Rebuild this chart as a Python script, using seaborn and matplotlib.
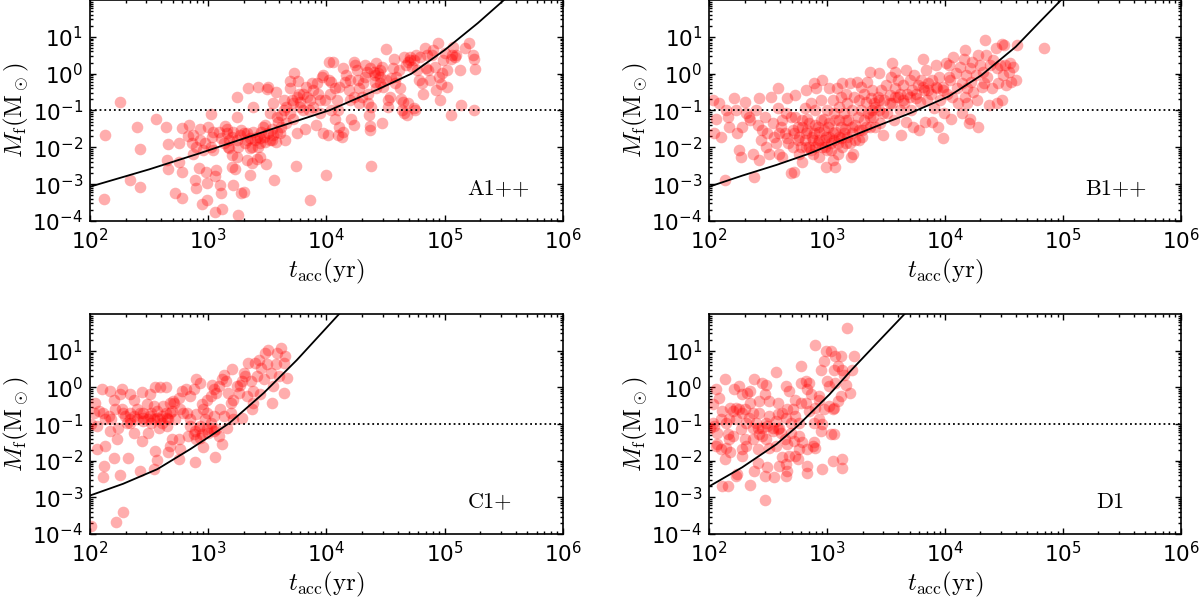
import numpy as np
import pandas as pd
import matplotlib
matplotlib.use("Agg")
import matplotlib.pyplot as plt
from matplotlib.ticker import LogLocator
import seaborn as sns

# points as (log10 t_acc [yr], log10 M_f [Msun])
A_PTS = [
    (2.13, -1.67), (2.25, -0.78), (2.12, -3.41), (2.34, -2.89), (2.42, -2.06), (2.42, -3.07),
    (2.40, -1.44), (2.56, -1.22), (2.64, -1.44), (2.66, -1.91), (2.65, -2.35), (2.66, -2.58),
    (2.72, -3.25), (2.75, -1.88), (2.75, -2.39), (2.78, -2.66), (2.78, -1.47), (2.78, -3.39),
    (2.84, -1.40), (2.83, -1.70), (2.86, -1.89), (2.87, -2.17), (2.89, -2.89), (2.90, -3.10),
    (2.92, -2.57), (2.93, -1.49), (2.95, -3.54), (2.98, -2.66), (2.99, -2.96), (2.99, -3.43),
    (3.00, -1.44), (3.02, -1.10), (3.03, -1.73), (3.04, -2.08), (3.06, -2.78), (3.07, -2.62),
    (3.10, -3.03), (3.11, -3.24), (3.12, -3.68), (3.06, -3.77), (3.14, -1.42), (3.16, -1.62),
    (3.18, -1.80), (3.18, -2.03), (3.20, -2.21), (3.21, -3.03), (3.23, -2.60), (3.24, -0.64),
    (3.24, -1.17), (3.25, -3.84), (3.28, -3.24), (3.30, -3.21), (3.30, -1.62), (3.33, -1.80),
    (3.34, -0.40), (3.35, -2.76), (3.35, -2.03), (3.37, -2.44), (3.38, -0.90), (3.41, -2.33),
    (3.42, -0.37), (3.44, -1.89), (3.45, -1.58), (3.47, -1.71), (3.48, -1.40), (3.49, -2.46),
    (3.50, -0.43), (3.51, -0.37), (3.52, -1.08), (3.55, -0.81), (3.56, -2.89), (3.57, -1.85),
    (3.57, -0.49), (3.58, -1.17), (3.61, -1.62), (3.62, -1.44), (3.64, -0.72), (3.65, -1.80),
    (3.66, -1.35), (3.69, -0.20), (3.69, -0.40), (3.71, -0.72), (3.72, -1.22), (3.73, 0.03),
    (3.74, -2.51), (3.75, -1.61), (3.76, -0.19), (3.77, -0.54), (3.78, -0.76), (3.80, -0.99),
    (3.82, -1.49), (3.83, -0.36), (3.84, -0.63), (3.86, -3.42), (3.88, -0.26), (3.89, -0.90),
    (3.91, -1.40), (3.92, -0.26), (3.93, -0.54), (3.95, -0.72), (3.96, -0.08), (3.97, -1.62),
    (3.97, -0.04), (4.00, -2.76), (4.01, -1.67), (4.02, 0.32), (4.02, -0.17),
    (3.09, -1.58), (3.11, -1.76), (3.13, -1.89), (3.16, -1.49), (3.17, -1.99), (3.20, -1.71),
    (3.21, -1.58), (3.24, -1.80), (3.25, -1.99), (3.27, -1.67), (3.28, -1.53), (3.31, -1.89),
    (3.33, -1.62), (3.35, -1.76), (3.37, -1.99), (3.38, -1.58), (3.40, -1.80), (3.41, -1.71),
    (3.42, -1.99), (3.44, -1.76), (3.46, -1.44), (3.48, -1.85), (3.51, -1.62), (3.52, -1.80),
    (3.54, -1.49), (3.55, -1.67), (3.58, -1.58), (3.59, -1.31), (3.62, -1.13), (3.64, -0.99),
    (3.66, -0.90), (3.69, -1.08), (3.72, -0.81), (3.75, -0.63), (3.78, -0.90), (3.80, -0.54),
    (3.85, -0.99), (3.86, -0.72), (3.89, -0.45), (3.95, -1.08), (3.99, -0.72), (2.96, -2.08),
    (2.97, -1.89), (3.02, -1.99), (3.04, -1.58), (2.93, -1.80), (2.90, -1.99), (2.87, -1.67),
    (3.20, -2.53), (3.24, -2.26), (3.33, -2.35), (3.44, -2.26), (3.54, -1.80),
    (4.06, 0.32), (4.04, -0.22), (4.07, -0.40), (4.09, -0.72), (4.10, -0.99), (4.11, -1.44),
    (4.13, -1.71), (4.14, -1.58), (4.10, -1.67), (4.14, 0.14), (4.16, -0.22), (4.17, -0.04),
    (4.19, -0.45), (4.20, -0.72), (4.21, -1.22), (4.23, -1.40), (4.23, 0.32), (4.24, 0.23),
    (4.26, 0.10), (4.27, -0.17), (4.28, -0.40), (4.30, -0.63), (4.31, -0.26), (4.33, 0.23),
    (4.33, -0.08), (4.35, -0.54), (4.35, -0.81), (4.36, -1.13), (4.37, -1.42), (4.37, -1.53),
    (4.38, -0.90), (4.38, -2.50), (4.40, 0.05), (4.41, -0.22), (4.42, 0.28), (4.44, 0.01),
    (4.45, -0.08), (4.47, 0.19), (4.47, -1.33), (4.48, -0.36), (4.50, -0.17), (4.50, 0.66),
    (4.52, -0.72), (4.52, -0.90), (4.54, -0.63), (4.55, -0.13), (4.56, 0.14), (4.57, 0.41),
    (4.58, -0.26), (4.59, -0.08), (4.61, 0.10), (4.62, -0.40), (4.63, -0.70), (4.64, -0.99),
    (4.65, -0.76), (4.66, -1.08), (4.66, 0.46), (4.67, 0.23), (4.68, -1.13), (4.69, -0.81),
    (4.71, 0.46), (4.71, 0.37), (4.72, 0.19), (4.74, -0.94), (4.75, -0.99), (4.76, 0.51),
    (4.77, 0.10), (4.78, -0.17), (4.79, 0.46), (4.81, -0.26), (4.82, -0.54), (4.83, 0.69),
    (4.84, 0.14), (4.85, 0.51), (4.86, 0.10), (4.88, -0.17), (4.89, 0.51), (4.90, 0.64),
    (4.92, 0.19), (4.93, -0.45), (4.94, 0.82), (4.95, -0.08), (4.96, -0.72), (4.97, -0.28),
    (4.98, 0.01), (4.99, 0.37), (5.02, 0.10), (5.02, -0.36), (5.05, -1.13), (5.06, 0.51),
    (5.07, 0.73), (5.09, 0.46), (5.10, 0.51), (5.13, 0.10), (5.14, -0.85), (5.17, 0.69),
    (5.21, 0.84), (5.24, 0.51), (5.25, 0.41), (5.26, 0.12), (5.25, -0.99),
    (4.34, 0.05), (4.37, 0.14), (4.41, -0.04), (4.45, 0.10), (4.45, -0.26), (4.42, -0.40),
    (4.20, -0.17), (4.11, -0.36), (4.23, -0.63), (4.28, -0.81), (4.74, 0.37), (4.69, 0.32),
    (5.00, 0.55), (5.05, 0.41), (4.03, -0.54), (4.04, -0.99), (4.07, -1.22),
]

B_PTS = [
    (2.03, -0.72), (2.04, -1.62), (2.08, -0.81), (2.10, -1.71), (2.06, -1.22), (2.13, -2.89),
    (2.14, -0.99), (2.17, -1.44), (2.16, -1.17), (2.21, -0.67), (2.23, -0.99), (2.24, -1.62),
    (2.25, -2.08), (2.27, -2.26), (2.28, -1.44), (2.30, -0.76), (2.31, -1.08), (2.34, -1.17),
    (2.35, -1.26), (2.37, -2.17), (2.38, -2.80), (2.40, -0.99), (2.41, -1.40), (2.42, -0.67),
    (2.42, -2.35), (2.44, -1.80), (2.45, -1.53), (2.47, -1.17), (2.48, -1.99), (2.49, -1.62),
    (2.51, -2.17), (2.52, -0.63), (2.54, -1.35), (2.55, -1.71), (2.57, -1.89), (2.58, -0.40),
    (2.58, -0.94), (2.59, -2.17), (2.61, -1.44), (2.62, -2.26), (2.64, -1.62), (2.65, -1.08),
    (2.66, -0.67), (2.67, -1.89), (2.69, -2.71), (2.71, -1.53), (2.72, -2.66), (2.73, -0.58),
    (2.73, -1.17), (2.75, -1.80), (2.76, -2.17), (2.78, -1.99), (2.79, -1.44), (2.79, -2.39),
    (2.81, -0.94), (2.82, -0.45), (2.82, -1.62), (2.83, -1.22), (2.85, -1.99), (2.86, -0.81),
    (2.87, -1.71), (2.88, -2.17), (2.89, -0.26), (2.90, -1.40), (2.90, -0.99), (2.91, -0.40),
    (2.92, -1.89), (2.93, -2.26), (2.93, -1.58), (2.95, -0.72), (2.96, -0.16), (2.97, -1.22),
    (2.97, -1.80), (2.98, -1.99), (2.99, -2.53), (3.00, -0.99), (3.01, -1.44), (3.02, -0.40),
    (3.02, -1.71), (3.03, -2.08), (3.05, -0.72), (3.05, -2.35), (3.06, -1.08), (3.07, -2.53),
    (3.07, -1.58), (3.08, -0.40), (3.09, -1.89), (3.10, -0.90), (3.10, -1.26), (3.12, -0.63),
    (3.12, -1.76), (3.13, -0.26), (3.14, -1.08), (3.15, -1.49), (3.16, -0.54), (3.16, -1.89),
    (3.17, -0.81), (3.18, -1.26), (3.19, -0.26), (3.20, -2.26), (3.21, -1.62), (3.21, -0.99),
    (3.22, -2.17), (3.23, -0.63), (3.24, -1.40), (3.25, -0.22), (3.26, -1.17), (3.27, -0.72),
    (3.27, -1.80), (3.29, -0.36), (3.29, -0.99), (3.30, -1.53), (3.31, -0.54), (3.31, -1.26),
    (3.33, -0.76), (3.34, -0.22), (3.35, -1.08), (3.36, 0.05), (3.36, -1.44), (3.37, -0.67),
    (3.38, -0.45), (3.39, -1.17), (3.40, -0.81), (3.41, -1.44), (3.43, -0.63), (3.44, 0.01),
    (3.44, -0.99), (3.45, -1.35), (3.46, -0.45), (3.47, -1.67), (3.48, -0.72), (3.50, -0.31),
    (3.51, -1.08), (3.53, -0.58), (3.54, -0.08), (3.55, 0.28), (3.55, -0.81), (3.57, -1.26),
    (3.58, -0.40), (3.58, 0.05), (3.60, -0.63), (3.60, -0.17), (3.62, -0.99), (3.62, -0.54),
    (3.63, -1.67), (3.64, -0.31), (3.65, -0.81), (3.67, -1.31), (3.67, 0.10), (3.68, -0.54),
    (3.70, -0.17), (3.71, -0.99), (3.72, -0.45), (3.73, -1.44), (3.74, -0.04), (3.75, -0.67),
    (3.77, -0.31), (3.78, -1.53), (3.79, -0.76), (3.80, -0.17), (3.81, 0.39), (3.82, -0.45),
    (3.83, -1.31), (3.84, 0.10), (3.85, -0.72), (3.86, -0.26), (3.88, -0.54), (3.89, -1.31),
    (3.89, -0.17), (3.91, -0.94), (3.92, 0.23), (3.93, -0.40), (3.94, -1.44), (3.95, -0.08),
    (3.96, -0.72), (3.98, -1.76), (3.98, -0.36), (3.99, -1.08), (4.01, 0.28), (4.02, -0.54),
    (4.03, -0.08),
    (2.59, -1.62), (2.62, -1.26), (2.66, -1.76), (2.69, -1.17), (2.71, -1.99), (2.72, -1.62),
    (2.75, -1.44), (2.76, -1.71), (2.79, -1.26), (2.81, -1.80), (2.82, -1.99), (2.83, -1.53),
    (2.85, -1.35), (2.86, -2.08), (2.88, -1.80), (2.89, -1.62), (2.90, -1.99), (2.92, -1.44),
    (2.93, -1.80), (2.95, -1.26), (2.96, -1.99), (2.97, -1.53), (2.99, -1.71), (3.00, -2.08),
    (3.02, -1.35), (3.03, -1.89), (3.05, -1.62), (3.06, -1.80), (3.07, -1.26), (3.09, -2.17),
    (3.10, -1.71), (3.12, -1.44), (3.13, -1.99), (3.14, -1.62), (3.16, -1.26), (3.17, -1.71),
    (3.19, -1.89), (3.21, -1.44), (3.24, -1.80), (3.27, -1.53), (3.30, -1.71), (3.33, -1.44),
    (3.36, -1.17), (3.38, -0.99), (3.41, -0.90), (3.44, -0.72), (3.47, -1.08), (3.53, -0.81),
    (3.58, -0.63), (3.64, -0.72), (3.70, -0.63), (3.75, -0.54), (3.81, -0.36), (3.86, -0.45),
    (3.92, -0.36), (3.98, -0.45),
    (4.03, 0.23), (4.04, -0.17), (4.06, -0.63), (4.05, -1.22), (4.07, 0.46), (4.09, 0.01),
    (4.10, -0.40), (4.11, -0.81), (4.13, 0.19), (4.14, -1.08), (4.14, -0.26), (4.16, 0.41),
    (4.17, -0.63), (4.17, 0.64), (4.18, -0.04), (4.19, -0.40), (4.19, -0.81), (4.20, -1.35),
    (4.21, -1.22), (4.21, 0.14), (4.22, -0.22), (4.23, 0.32), (4.24, -0.49), (4.26, -0.04),
    (4.27, -0.72), (4.28, -1.44), (4.28, 0.51), (4.30, 0.23), (4.31, -0.36), (4.32, 0.05),
    (4.33, -0.26), (4.34, 0.91), (4.35, 0.51), (4.36, -0.08), (4.37, -0.85), (4.38, 0.23),
    (4.40, -0.40), (4.41, 0.37), (4.43, 0.69), (4.44, 0.14), (4.44, -0.81), (4.45, -0.26),
    (4.47, 0.23), (4.48, 0.80), (4.48, -0.72), (4.49, -0.04), (4.50, 0.78), (4.51, 0.23),
    (4.52, -0.31), (4.54, 0.05), (4.55, 0.28), (4.56, -0.22), (4.58, 0.19), (4.60, -0.17),
    (4.61, 0.78), (4.84, 0.71),
]

C_PTS = [
    (2.01, -3.77), (2.22, -3.66), (2.28, -3.40), (2.13, -1.59), (2.06, -1.68), (2.12, -2.14),
    (2.11, -2.45), (2.20, -1.93), (2.25, -2.38), (2.32, -1.93), (2.42, -2.29), (2.54, -2.23),
    (2.57, -1.98), (2.55, -1.73), (2.66, -1.77), (2.68, -1.59), (2.75, -1.96), (2.89, -2.03),
    (3.06, -1.89), (2.96, -1.62), (2.90, -1.41), (2.88, -1.28), (2.83, -1.32), (2.93, -1.37),
    (2.99, -1.14), (3.02, -1.10), (3.09, -1.32), (3.12, -1.55), (2.97, -0.87), (2.85, -1.05),
    (2.82, -0.69), (2.76, -0.60), (2.71, -0.42), (2.68, -0.69), (2.72, -0.87), (2.75, -1.41),
    (2.76, -1.68), (2.69, -1.41), (2.65, -1.05), (2.61, -0.78), (2.58, -1.10), (2.52, -0.96),
    (2.49, -1.23), (2.45, -0.91), (2.44, -1.46), (2.37, -1.23), (2.34, -0.96), (2.30, -0.78),
    (2.27, -0.60), (2.24, -1.10), (2.23, -1.41), (2.17, -1.19), (2.16, -0.78), (2.11, -0.69),
    (2.08, -0.64), (2.04, -0.42), (2.03, -0.69), (2.01, -1.00), (2.06, -1.05), (2.10, -0.05),
    (2.17, -0.10), (2.20, -0.33), (2.25, -0.19), (2.27, -0.04), (2.34, -0.19), (2.37, -0.33),
    (2.44, -0.12), (2.51, -0.19), (2.55, 0.02), (2.59, 0.02), (2.64, 0.02), (2.54, -0.51),
    (2.48, -0.46), (2.57, -0.64), (2.62, -0.51), (2.40, -0.60), (2.34, -0.69), (2.31, -0.96),
    (2.40, -0.87), (2.45, -0.69), (2.51, -0.78), (2.57, -0.82), (2.61, -0.96), (2.66, -0.87),
    (2.69, -0.64), (2.64, -0.69), (2.70, -0.37), (2.78, -0.10), (2.81, -0.05), (2.85, -0.23),
    (2.88, -0.04), (2.90, 0.22), (2.93, 0.13), (2.95, -0.46), (2.99, -0.33), (3.02, -0.23),
    (3.03, 0.08), (3.05, -0.05), (3.07, -0.14), (3.09, 0.04), (3.12, 0.22), (3.13, 0.35),
    (3.15, 0.17), (3.17, -0.14), (3.20, 0.51), (3.19, -0.42), (3.21, -0.33), (3.24, 0.03),
    (3.26, -0.14), (3.27, 0.08), (3.29, 0.17), (3.30, 0.40), (3.31, 0.31), (3.33, -0.23),
    (3.34, 0.67), (3.36, 0.17), (3.37, -0.60), (3.38, -0.10), (3.38, -0.42), (3.40, 0.67),
    (3.41, 0.31), (3.43, 0.76), (3.44, -0.19), (3.45, 0.54), (3.47, 0.22), (3.48, 0.94),
    (3.50, 0.63), (3.51, 1.03), (3.53, 0.40), (3.54, -0.42), (3.55, 0.04), (3.57, 0.63),
    (3.58, 0.94), (3.60, 0.31), (3.62, 1.08), (3.64, -0.14), (3.65, 0.85), (3.67, 0.26),
    (3.64, 0.67), (3.13, -0.78), (3.16, -1.10), (3.21, -0.87), (3.29, -0.82), (3.19, -0.69),
    (3.10, -0.60), (3.05, -0.78), (2.99, -0.69), (2.96, -0.60), (2.90, -0.73), (2.93, -1.05),
    (3.02, -0.96), (3.07, -1.14), (2.85, -0.87), (2.79, -0.69), (2.75, -0.28), (2.68, -0.42),
    (2.59, -0.87), (2.54, -0.87), (2.49, -0.87), (2.42, -0.69), (2.37, -0.78), (2.28, -0.69),
    (2.21, -0.60), (2.18, -0.87), (2.89, -1.19), (2.95, -1.28), (3.00, -1.23), (3.05, -1.19),
    (2.92, -1.10), (2.45, -0.82), (2.52, -0.69), (2.65, -0.82), (2.34, -0.87), (2.13, -0.87),
]

D_PTS = [
    (2.13, 0.22), (2.06, -0.05), (2.08, -0.28), (2.03, -0.46), (2.11, -0.64), (2.04, -1.05),
    (2.01, -1.10), (2.07, -1.23), (2.16, -1.28), (2.06, -1.59), (2.14, -1.64), (2.13, -1.96),
    (2.21, -0.05), (2.25, 0.03), (2.28, -0.19), (2.32, -0.14), (2.35, -0.10), (2.38, 0.22),
    (2.45, 0.13), (2.48, 0.08), (2.47, -0.19), (2.57, 0.42), (2.51, -0.37), (2.58, -0.42),
    (2.65, 0.03), (2.68, -0.10), (2.66, -0.60), (2.73, -0.33), (2.78, 0.58), (2.78, 0.13),
    (2.82, 0.17), (2.85, 0.13), (2.83, -0.05), (2.86, -0.19), (2.90, 1.17), (2.93, -0.33),
    (2.95, 0.49), (2.97, 0.72), (2.99, 0.99), (3.00, 0.17), (3.02, 0.03), (3.03, 0.99),
    (3.06, 0.49), (3.07, 0.85), (3.09, 0.58), (3.12, 0.85), (3.13, 0.49), (3.14, 0.35),
    (3.16, 0.08), (3.07, 0.13), (3.19, -0.14), (3.21, 0.49), (3.23, 0.87), (3.17, 1.62),
    (3.12, -0.23), (3.05, -0.60), (2.97, -0.60), (2.93, -0.87), (2.89, -0.96), (2.85, -0.64),
    (2.82, -0.42), (2.78, -0.42), (2.73, -0.78), (2.71, -0.60), (2.69, -0.96), (2.65, -0.82),
    (2.62, -0.69), (2.59, -1.10), (2.57, -0.91), (2.54, -1.10), (2.51, -0.78), (2.48, -0.96),
    (2.45, -1.10), (2.42, -0.69), (2.40, -0.96), (2.37, -0.69), (2.34, -0.82), (2.31, -0.96),
    (2.28, -0.69), (2.25, -0.60), (2.23, -0.55), (2.20, -0.64), (2.17, -0.87), (2.14, -0.96),
    (2.10, -0.87), (2.03, -0.96), (2.07, -1.55), (2.10, -1.68), (2.23, -0.87), (2.27, -1.14),
    (2.30, -1.41), (2.28, -1.68), (2.37, -1.10), (2.41, -1.10), (2.42, -1.28), (2.45, -1.32),
    (2.48, -1.41), (2.49, -1.05), (2.54, -1.19), (2.58, -1.14), (2.61, -1.23), (2.64, -1.41),
    (2.66, -1.55), (2.69, -1.23), (2.72, -1.46), (2.76, -1.32), (2.79, -1.50), (2.83, -1.68),
    (2.88, -1.59), (2.90, -1.64), (2.89, -1.50), (2.76, -1.68), (2.73, -1.87), (2.68, -1.87),
    (2.62, -1.91), (2.57, -1.59), (2.51, -1.64), (2.41, -1.68), (2.37, -1.41), (2.31, -1.59),
    (2.28, -1.87), (2.20, -1.32), (2.17, -1.41), (2.18, -1.77), (2.24, -2.36), (2.23, -2.41),
    (2.11, -2.68), (2.16, -2.68), (2.35, -2.66), (2.38, -2.27), (2.41, -2.05), (2.47, -2.41),
    (2.49, -2.18), (2.55, -2.45), (2.59, -2.14), (2.65, -2.41), (2.66, -2.27), (2.65, -2.09),
    (2.75, -1.96), (2.83, -2.14), (2.83, -2.34), (2.96, -2.23), (3.05, -2.00), (3.13, -1.96),
    (3.13, -2.21), (2.47, -3.07), (2.95, -1.19), (3.03, -1.28), (3.06, -1.28), (2.96, -1.00),
    (2.90, -0.55), (2.93, -0.23), (3.02, -0.51), (3.06, -0.55), (3.09, -0.37), (2.76, -0.96),
    (2.58, -0.73), (2.42, -0.37), (2.35, -0.42), (2.30, -0.60), (2.18, -0.55),
]

# model curves, same units
A_CURVE = [(2.0, -3.07), (2.5, -2.60), (2.93, -2.16), (3.6, -1.44), (4.03, -0.99), (4.44, -0.42),
           (4.72, 0.0), (5.0, 0.64), (5.28, 1.37), (5.52, 2.05)]
B_CURVE = [(2.0, -3.07), (2.28, -2.77), (2.57, -2.48), (2.85, -2.17), (3.13, -1.80), (3.41, -1.44),
           (3.70, -1.08), (4.03, -0.62), (4.31, -0.04), (4.60, 0.73), (4.82, 1.46), (5.0, 2.05)]
C_CURVE = [(2.0, -2.95), (2.28, -2.63), (2.57, -2.23), (2.85, -1.68), (3.02, -1.32), (3.18, -0.97),
           (3.47, -0.15), (3.75, 0.75), (4.12, 2.05)]
D_CURVE = [(2.0, -2.70), (2.28, -2.18), (2.57, -1.55), (2.75, -1.05), (2.85, -0.73), (3.02, -0.19),
           (3.21, 0.49), (3.41, 1.17), (3.67, 2.05)]

LABELS = ["A1++", "B1++", "C1+", "D1"]
M_LIMIT = 0.1
XTICKS = [1e2, 1e3, 1e4, 1e5, 1e6]
YTICKS = [1e-4, 1e-3, 1e-2, 1e-1, 1e0, 1e1]

sns.set_style("ticks")
plt.rcParams["font.family"] = ["DejaVu Sans"]
plt.rcParams["mathtext.fontset"] = "cm"
plt.rcParams["axes.edgecolor"] = "black"
plt.rcParams["text.color"] = "black"
plt.rcParams["axes.labelcolor"] = "black"
plt.rcParams["xtick.color"] = "black"
plt.rcParams["ytick.color"] = "black"

fig = plt.figure(figsize=(12, 6.02), dpi=100)
positions = [
    [0.075, 0.633, 0.394, 0.367],
    [0.591, 0.633, 0.393, 0.367],
    [0.075, 0.113, 0.394, 0.365],
    [0.591, 0.113, 0.393, 0.365],
]
label_x = [0.797, 0.797, 0.80, 0.82]
panels = [(A_PTS, A_CURVE), (B_PTS, B_CURVE), (C_PTS, C_CURVE), (D_PTS, D_CURVE)]


def to_df(pts):
    df = pd.DataFrame(pts, columns=["logt", "logm"])
    df["t"] = 10 ** df["logt"]
    df["m"] = 10 ** df["logm"]
    return df


for i, (pts, curve) in enumerate(panels):
    ax = fig.add_axes(positions[i])
    ax.set_xscale("log")
    ax.set_yscale("log")
    sns.scatterplot(data=to_df(pts), x="t", y="m", color="red", alpha=0.32, s=70,
                    linewidth=0, ax=ax, zorder=2)
    sns.lineplot(data=to_df(curve), x="t", y="m", color="black", lw=1.3,
                 errorbar=None, ax=ax, zorder=3)
    ax.axhline(M_LIMIT, color="black", ls=":", lw=1.3, zorder=3)

    ax.set_xticks(XTICKS)
    ax.set_yticks(YTICKS)
    ax.xaxis.set_minor_locator(LogLocator(base=10, subs=np.arange(2, 10), numticks=100))
    ax.yaxis.set_minor_locator(LogLocator(base=10, subs=np.arange(2, 10), numticks=100))
    ax.set_xlim(1e2, 1e6)
    ax.set_ylim(1e-4, 1e2)
    ax.tick_params(which="both", direction="in", top=True, right=True, width=1.0)
    ax.tick_params(which="major", length=4.5, labelsize=15.5, pad=5)
    ax.tick_params(which="minor", length=2.2)
    for sp in ax.spines.values():
        sp.set_linewidth(1.2)

    ax.set_xlabel(r"$t_{\rm acc}({\rm yr})$", fontsize=18, labelpad=3)
    ax.set_ylabel(r"$M_{\rm f}({\rm M}_\odot)$", fontsize=18, labelpad=1)
    ax.text(label_x[i], 0.12, LABELS[i], transform=ax.transAxes, fontsize=16,
            fontfamily="cmr10", ha="left", va="baseline")

fig.savefig("out.png", dpi=100)
